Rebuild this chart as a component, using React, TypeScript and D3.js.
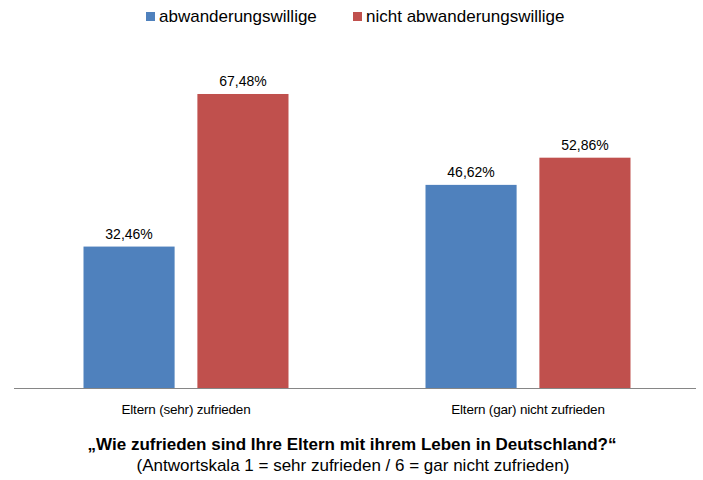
import React from "react";
import * as d3 from "d3";

const categories = ["Eltern (sehr) zufrieden", "Eltern (gar) nicht zufrieden"];
const seriesNames = ["abwanderungswillige", "nicht abwanderungswillige"];
const abwanderungswillige = [32.46, 46.62];
const nichtAbwanderungswillige = [67.48, 52.86];
const colors = ["#4F81BD", "#C0504D"];
const title = "„Wie zufrieden sind Ihre Eltern mit ihrem Leben in Deutschland?“";
const subtitle = "(Antwortskala 1 = sehr zufrieden / 6 = gar nicht zufrieden)";

const W = 703;
const H = 480;

export default function App() {
  const baseline = 388;
  const y = d3.scaleLinear().domain([0, 80]).range([baseline, baseline - 80 * 4.357]);
  const x0 = d3.scaleBand<string>().domain(categories).range([15, 699]).paddingInner(0).paddingOuter(0);
  const groupW = 205;
  const x1 = d3.scaleBand<string>().domain(seriesNames).range([0, groupW]).paddingInner(0.2).paddingOuter(0);
  const series = [abwanderungswillige, nichtAbwanderungswillige];
  const fmt = (v: number) => v.toFixed(2).replace(".", ",") + "%";
  const font = "Liberation Sans, Arial, sans-serif";

  return (
    <svg width={W} height={H} style={{ position: "absolute", left: 0, top: 0 }} fontFamily={font}>
      <rect width={W} height={H} fill="#fff" />
      <g>
        <rect x={146} y={12} width={9} height={9} fill={colors[0]} />
        <text x={159} y={22} fontSize={17} fill="#000">{seriesNames[0]}</text>
        <rect x={353} y={12} width={9} height={9} fill={colors[1]} />
        <text x={366} y={22} fontSize={17} fill="#000">{seriesNames[1]}</text>
      </g>
      {categories.map((c, i) => {
        const gx = x0(c)! + (x0.bandwidth() - groupW) / 2;
        return (
          <g key={c}>
            {seriesNames.map((s, j) => {
              const v = series[j][i];
              const bx = gx + x1(s)!;
              return (
                <g key={s}>
                  <rect x={bx} y={y(v)} width={x1.bandwidth()} height={baseline - y(v)} fill={colors[j]} />
                  <text x={bx + x1.bandwidth() / 2} y={y(v) - 8} textAnchor="middle" fontSize={14} fill="#000">
                    {fmt(v)}
                  </text>
                </g>
              );
            })}
            <text x={gx + groupW / 2} y={414} textAnchor="middle" fontSize={13.5} fill="#000" letterSpacing={-0.2}>
              {c}
            </text>
          </g>
        );
      })}
      <line x1={14} x2={696} y1={baseline + 0.5} y2={baseline + 0.5} stroke="#868686" strokeWidth={1} />
      <text x={352} y={450} textAnchor="middle" fontSize={17} fontWeight="bold" fill="#000">{title}</text>
      <text x={353} y={471} textAnchor="middle" fontSize={17} fill="#000">{subtitle}</text>
    </svg>
  );
}
